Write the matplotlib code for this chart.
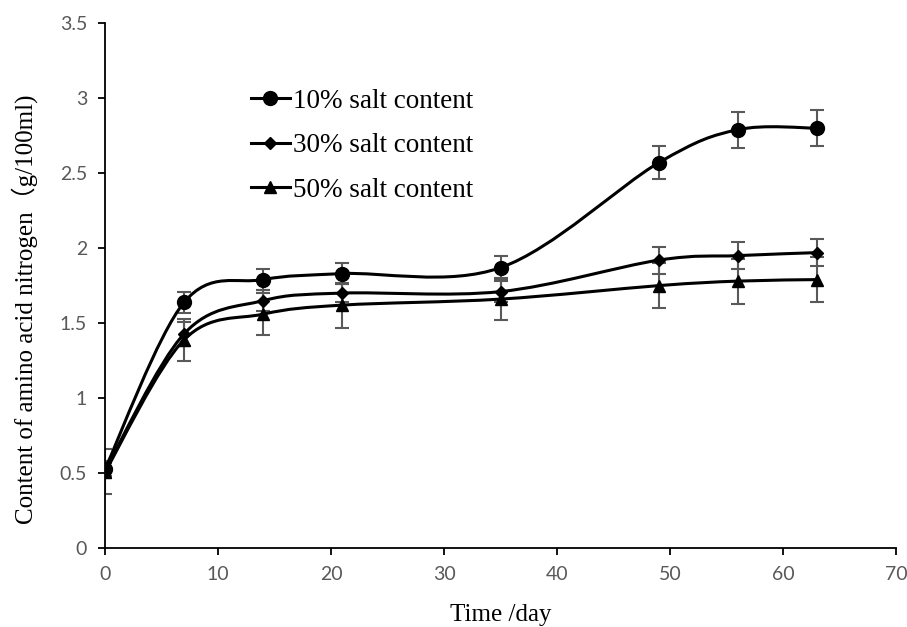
import numpy as np
import matplotlib
matplotlib.use("Agg")
import matplotlib.pyplot as plt
from matplotlib.path import Path
from matplotlib.patches import PathPatch
from matplotlib.lines import Line2D

# Sampling days
days = [0, 7, 14, 21, 35, 49, 56, 63]

# Amino acid nitrogen content (g/100ml) and error bars
salt10 = [0.53, 1.64, 1.79, 1.83, 1.87, 2.57, 2.79, 2.80]
salt10_err = [0.05, 0.07, 0.07, 0.07, 0.08, 0.11, 0.12, 0.12]
salt30 = [0.52, 1.43, 1.65, 1.70, 1.71, 1.92, 1.95, 1.97]
salt30_err = [0.05, 0.08, 0.07, 0.06, 0.07, 0.09, 0.09, 0.09]
salt50 = [0.51, 1.39, 1.56, 1.62, 1.66, 1.75, 1.78, 1.79]
salt50_err = [0.15, 0.14, 0.14, 0.15, 0.14, 0.15, 0.15, 0.15]

labels = ["10% salt content", "30% salt content", "50% salt content"]
markers = ["o", "D", "^"]
msizes = [10, 6, 9]

serif = ["Liberation Serif", "Noto Sans CJK SC"]
tick_font = ["Liberation Sans Narrow", "Lato"]


def smooth_path(x, y):
    # excel-like smoothed line: cubic bezier through every point
    pts = np.column_stack([x, y]).astype(float)
    n = len(pts)
    verts = [pts[0]]
    codes = [Path.MOVETO]
    for i in range(n - 1):
        p0 = pts[max(i - 1, 0)]
        p1 = pts[i]
        p2 = pts[i + 1]
        p3 = pts[min(i + 2, n - 1)]
        verts += [p1 + (p2 - p0) / 6, p2 - (p3 - p1) / 6, p2]
        codes += [Path.CURVE4] * 3
    return Path(verts, codes)


fig = plt.figure(figsize=(9.07, 6.27), dpi=100)
ax = fig.add_axes([0.116, 0.126, 0.872, 0.837])

handles = []
for vals, errs, lab, mk, ms in zip([salt10, salt30, salt50],
                                   [salt10_err, salt30_err, salt50_err],
                                   labels, markers, msizes):
    ax.errorbar(days, vals, yerr=errs, fmt="none", ecolor="#595959",
                elinewidth=1.5, capsize=5, capthick=1.5, zorder=2)
    ax.add_patch(PathPatch(smooth_path(days, vals), fill=False,
                           edgecolor="black", lw=2.2, zorder=3))
    ax.plot(days, vals, linestyle="none", marker=mk, ms=ms,
            color="black", zorder=4)
    handles.append(Line2D([], [], color="black", lw=2.2, marker=mk, ms=ms))

ax.set_xlim(0, 70)
ax.set_ylim(0, 3.5)
ax.set_xticks(range(0, 71, 10))
ax.set_yticks(np.arange(0, 3.51, 0.5))
ax.set_yticklabels(["0", "0.5", "1", "1.5", "2", "2.5", "3", "3.5"])

for s in ["top", "right"]:
    ax.spines[s].set_visible(False)
for s in ["left", "bottom"]:
    ax.spines[s].set_linewidth(1.3)

ax.tick_params(direction="out", length=5, width=1.3, labelsize=14,
               labelcolor="#595959", pad=8)
for t in ax.get_xticklabels() + ax.get_yticklabels():
    t.set_family(tick_font)

ax.set_xlabel("Time /day", family=serif, fontsize=18, labelpad=15)
ax.set_ylabel("Content of amino acid nitrogen（g/100ml)", family=serif,
              fontsize=18)
ax.yaxis.set_label_coords(-0.085, 0.455)

ax.legend(handles, labels, loc="upper left", bbox_to_anchor=(0.153, 0.922),
          frameon=False, prop={"family": serif, "size": 19.5},
          handlelength=1.45, handletextpad=0.12, labelspacing=0.72)

fig.savefig("out.png", dpi=100)
